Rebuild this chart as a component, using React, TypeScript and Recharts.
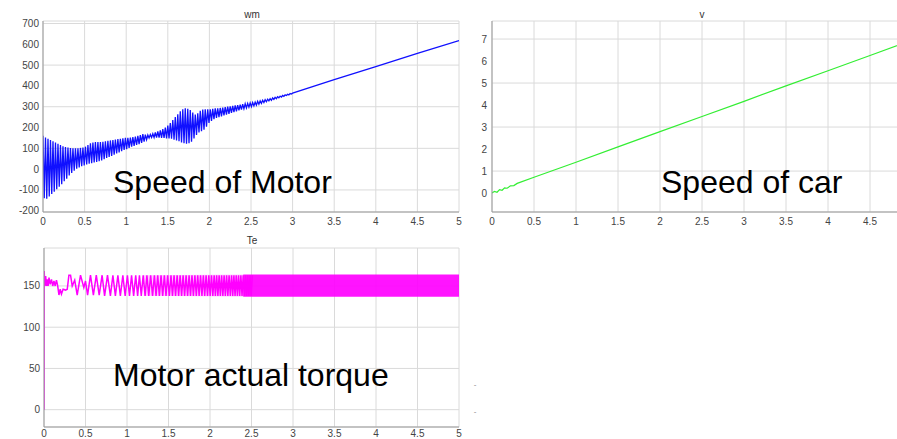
import React from 'react';
import { LineChart, ComposedChart, Line, Area, XAxis, YAxis, CartesianGrid } from 'recharts';

// ---------- ticks ----------
const timeTicks = [0, 0.5, 1, 1.5, 2, 2.5, 3, 3.5, 4, 4.5, 5];
const vTimeTicks = [0, 0.5, 1, 1.5, 2, 2.5, 3, 3.5, 4, 4.5];
const wmTicks = [-200, -100, 0, 100, 200, 300, 400, 500, 600, 700];
const vTicks = [0, 1, 2, 3, 4, 5, 6, 7];
const teTicks = [0, 50, 100, 150];

// ---------- wm (motor speed) ----------
const wmCycleStep = 0.03; // one peak + one trough per step
const wmPeaks = [
  160, 152, 146, 140, 134, 128, 122, 116, 110, 106,
  104, 102, 100, 100, 100, 102, 104, 108, 116, 124,
  128, 130, 130, 130, 132, 134, 136, 138, 140, 142,
  144, 146, 148, 150, 150, 152, 154, 156, 160, 164,
  168, 166, 164, 166, 170, 176, 182, 186, 192, 200,
  210, 222, 236, 250, 264, 278, 288, 292, 290, 284,
  272, 262, 268, 280, 286, 288, 288, 288, 290, 292,
  292, 294, 296, 298, 300, 302, 304, 306, 308, 310,
  312, 314, 316, 318, 320, 322, 326, 328, 331, 334,
  336, 339, 342, 345, 348, 351, 354, 357, 360, 363,
];
const wmTroughs = [
  -140, -142, -132, -120, -108, -96, -84, -72, -58, -46,
  -30, -18, -8, 2, 8, 14, 18, 22, 26, 28,
  32, 34, 38, 42, 48, 54, 58, 64, 70, 76,
  80, 86, 92, 96, 102, 108, 112, 116, 120, 126,
  132, 142, 150, 152, 152, 152, 152, 150, 150, 148,
  148, 146, 142, 138, 134, 128, 124, 122, 124, 132,
  148, 164, 176, 182, 190, 204, 222, 232, 240, 246,
  250, 254, 258, 262, 266, 270, 274, 278, 282, 286,
  290, 294, 298, 300, 304, 308, 312, 316, 320, 324,
  328, 331, 335, 339, 343, 346, 350, 354, 357, 361,
];
const wmTailTimes = [3, 3.5, 4, 4.5, 5];
const wmTailValues = [365, 430, 493, 556, 618];

// ---------- v (car speed) ----------
const vTimes = [0, 0.03, 0.06, 0.09, 0.12, 0.15, 0.18, 0.22, 0.26, 0.3, 0.5, 1, 1.5, 2, 2.5, 3, 3.5, 4, 4.5, 5];
const vValues = [0, 0.08, 0.04, 0.16, 0.13, 0.24, 0.22, 0.33, 0.34, 0.44, 0.72, 1.4, 2.1, 2.79, 3.48, 4.17, 4.87, 5.56, 6.25, 6.95];

// ---------- Te (motor torque) ----------
const teTimes = [
  0, 0.002, 0.01, 0.02, 0.03, 0.04, 0.05, 0.06, 0.075, 0.09, 0.105, 0.12, 0.135, 0.15, 0.165,
  0.18, 0.195, 0.21, 0.23, 0.26, 0.28, 0.3, 0.32, 0.34, 0.37, 0.4, 0.44, 0.48, 0.5,
  0.525, 0.56, 0.595, 0.63, 0.665, 0.7, 0.73, 0.765, 0.8, 0.83, 0.86, 0.89, 0.92, 0.95, 0.978,
  1.005, 1.03, 1.055, 1.08, 1.105, 1.128, 1.15, 1.172, 1.195, 1.218, 1.24, 1.262, 1.285, 1.308,
  1.33, 1.35, 1.37, 1.39, 1.41, 1.43, 1.45, 1.47, 1.49, 1.51, 1.53, 1.548, 1.567, 1.585, 1.604,
  1.622, 1.64, 1.658, 1.676, 1.694, 1.712, 1.73, 1.748, 1.765, 1.783, 1.8, 1.818, 1.835, 1.852,
  1.869, 1.886, 1.903, 1.92, 1.936, 1.953, 1.97, 1.986, 2.002, 2.018, 2.034, 2.05, 2.065, 2.08,
  2.095, 2.11, 2.125, 2.14, 2.155, 2.17, 2.185, 2.2, 2.215, 2.23, 2.245, 2.26, 2.274, 2.288,
  2.302, 2.316, 2.33, 2.344, 2.358, 2.372, 2.386, 2.4, 2.414, 2.428, 2.442, 2.455, 2.468, 2.482,
  2.496, 2.51,
];
const teValues = [
  0, 168, 150, 162, 150, 158, 150, 160, 152, 158, 150, 156, 150, 157, 150,
  139, 146, 140, 146, 145, 146, 163, 163, 150, 157, 139, 163, 148, 156,
  139, 163, 139, 163, 139, 163, 138, 163, 138, 163, 138, 163, 138, 163, 138,
  163, 138, 163, 138, 163, 138, 163, 138, 163, 138, 163, 138, 163, 138,
  163, 138, 163, 138, 163, 138, 163, 138, 163, 138, 163, 138, 163, 138, 163,
  138, 163, 138, 163, 138, 163, 138, 163, 138, 163, 138, 163, 138, 163,
  138, 163, 138, 163, 138, 163, 138, 163, 138, 163, 138, 163, 138, 163,
  138, 163, 138, 163, 138, 163, 138, 163, 138, 163, 138, 163, 138, 163,
  138, 163, 138, 163, 138, 163, 138, 163, 138, 163, 138, 163, 138, 163,
  138, 163,
];
// faint envelope where the oscillation starts to blur (1.2 s - 2.4 s)
const teHazeTimes = [1.2, 2.4];
const teHazeLow = [138, 137];
const teHazeHigh = [163, 164];
// solid band where the oscillation is too fast to resolve (2.4 s - 5 s)
const teBandTimes = [2.4, 5];
const teBandLow = [137, 137];
const teBandHigh = [164, 164];

// ---------- build tables ----------
const wmData: { t: number; wm: number }[] = [];
wmPeaks.forEach((p, k) => {
  wmData.push({ t: k * wmCycleStep, wm: p });
  wmData.push({ t: k * wmCycleStep + wmCycleStep / 2, wm: wmTroughs[k] });
});
wmTailTimes.forEach((t, i) => wmData.push({ t, wm: wmTailValues[i] }));

const vData = vTimes.map((t, i) => ({ t, v: vValues[i] }));

const teData: any[] = [];
teTimes.forEach((t, i) => teData.push({ t, te: teValues[i] }));
teHazeTimes.forEach((t, i) => teData.push({ t, haze: [teHazeLow[i], teHazeHigh[i]] }));
teBandTimes.forEach((t, i) => teData.push({ t, band: [teBandLow[i], teBandHigh[i]] }));
teData.sort((a, b) => a.t - b.t);

// ---------- styles ----------
const FONT = "'Liberation Sans', Arial, Helvetica, sans-serif";
const tickStyle = { fontSize: 10, fill: '#444', fontFamily: FONT };
const GRID = '#dadada';
const FRAME = '#999';

function Frame({ xDomain, yDomain }: { xDomain: number[]; yDomain: number[] }) {
  return (
    <>
      <XAxis xAxisId="top" orientation="top" type="number" domain={xDomain} allowDataOverflow height={0} tick={false} tickLine={false} axisLine={{ stroke: FRAME }} />
      <YAxis yAxisId="right" orientation="right" type="number" domain={yDomain} allowDataOverflow width={0} tick={false} tickLine={false} axisLine={{ stroke: FRAME }} />
    </>
  );
}

export default function App() {
  const wmDomain = [-206, 712];
  const vDomain = [-0.86, 7.82];
  const teDomain = [-21, 196];
  return (
    <div style={{ position: 'absolute', left: 0, top: 0, width: 897, height: 439, overflow: 'hidden', background: '#fff' }}>
      {/* wm */}
      <div style={{ position: 'absolute', left: 0, top: 0 }}>
        <LineChart width={470} height={230} data={wmData} margin={{ top: 21, right: 11, bottom: 0, left: 3 }}>
          <CartesianGrid stroke={GRID} />
          <XAxis dataKey="t" type="number" domain={[0, 5]} ticks={timeTicks} allowDataOverflow tickLine={false} tickSize={0} tickMargin={6} height={18} tick={tickStyle} axisLine={{ stroke: FRAME }} />
          <YAxis type="number" domain={wmDomain} ticks={wmTicks} allowDataOverflow tickLine={false} tickSize={0} tickMargin={4} width={40} tick={tickStyle} axisLine={{ stroke: FRAME }} />
          {Frame({ xDomain: [0, 5], yDomain: wmDomain })}
          <Line dataKey="wm" stroke="#1010ff" strokeWidth={1.3} dot={false} isAnimationActive={false} />
        </LineChart>
      </div>
      {/* v */}
      <div style={{ position: 'absolute', left: 450, top: 0 }}>
        <LineChart width={470} height={230} data={vData} margin={{ top: 21, right: 8, bottom: 0, left: 12 }}>
          <CartesianGrid stroke={GRID} />
          <XAxis dataKey="t" type="number" domain={[0, 5]} ticks={vTimeTicks} allowDataOverflow tickLine={false} tickSize={0} tickMargin={6} height={18} tick={tickStyle} axisLine={{ stroke: FRAME }} />
          <YAxis type="number" domain={vDomain} ticks={vTicks} allowDataOverflow tickLine={false} tickSize={0} tickMargin={5} width={30} tick={tickStyle} axisLine={{ stroke: FRAME }} />
          {Frame({ xDomain: [0, 5], yDomain: vDomain })}
          <Line dataKey="v" stroke="#33ee33" strokeWidth={1.2} dot={false} isAnimationActive={false} />
        </LineChart>
      </div>
      {/* Te */}
      <div style={{ position: 'absolute', left: 0, top: 220 }}>
        <ComposedChart width={470} height={219} data={teData} margin={{ top: 28, right: 11, bottom: 0, left: 4 }}>
          <CartesianGrid stroke={GRID} />
          <XAxis dataKey="t" type="number" domain={[0, 5]} ticks={timeTicks} allowDataOverflow tickLine={false} tickSize={0} tickMargin={3} height={12} tick={tickStyle} axisLine={{ stroke: FRAME }} />
          <YAxis type="number" domain={teDomain} ticks={teTicks} allowDataOverflow tickLine={false} tickSize={0} tickMargin={4} width={40} tick={tickStyle} axisLine={{ stroke: FRAME }} />
          {Frame({ xDomain: [0, 5], yDomain: teDomain })}
          <Area dataKey="haze" stroke="none" fill="#ff66ff" fillOpacity={0.35} connectNulls isAnimationActive={false} />
          <Area dataKey="band" stroke="none" fill="#ff00ff" fillOpacity={0.92} connectNulls isAnimationActive={false} />
          <Line dataKey="te" stroke="#ff00ff" strokeWidth={1.5} dot={false} connectNulls isAnimationActive={false} />
        </ComposedChart>
      </div>
      {/* titles and annotations */}
      <svg width={897} height={439} style={{ position: 'absolute', left: 0, top: 0, pointerEvents: 'none' }}>
        <text x={252} y={18} textAnchor="middle" fontSize={10} fill="#333" fontFamily={FONT}>wm</text>
        <text x={702} y={18} textAnchor="middle" fontSize={10} fill="#333" fontFamily={FONT}>v</text>
        <text x={252} y={244} textAnchor="middle" fontSize={10} fill="#333" fontFamily={FONT}>Te</text>
        <text x={113} y={193} fontSize={32} fill="#000" fontFamily={FONT}>Speed of Motor</text>
        <text x={661} y={193} fontSize={32} fill="#000" fontFamily={FONT}>Speed of car</text>
        <text x={113} y={386} fontSize={32} fill="#000" fontFamily={FONT}>Motor actual torque</text>
        <text x={475} y={387} textAnchor="middle" fontSize={8} fill="#888" fontFamily={FONT}>-</text>
        <text x={475} y={414} textAnchor="middle" fontSize={8} fill="#888" fontFamily={FONT}>-</text>
      </svg>
    </div>
  );
}
